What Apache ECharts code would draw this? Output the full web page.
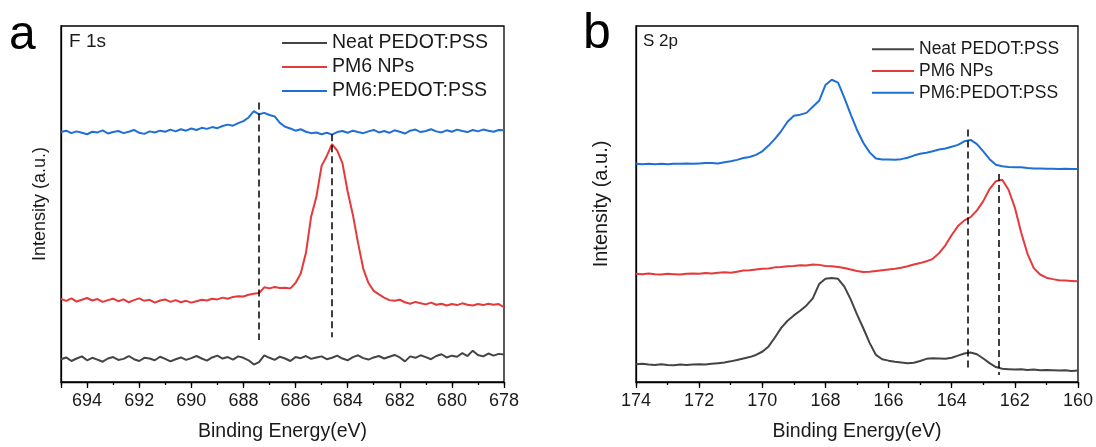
<!DOCTYPE html>
<html>
<head>
<meta charset="utf-8">
<script src="https://cdn.jsdelivr.net/npm/echarts@6/dist/echarts.min.js"></script>
<style>html,body{margin:0;padding:0;background:#fff}#c{width:1096px;height:447px}</style>
</head>
<body>
<div id="c"></div>
<script>
// ---------- Panel a : F 1s ----------
var energyA = [
695,694.8,694.6,694.4,694.2,694,693.8,693.6,693.4,693.2,
693,692.8,692.6,692.4,692.2,692,691.8,691.6,691.4,691.2,
691,690.8,690.6,690.4,690.2,690,689.8,689.6,689.4,689.2,
689,688.8,688.6,688.4,688.2,688,687.8,687.6,687.4,687.2,
687,686.8,686.6,686.4,686.2,686,685.8,685.6,685.4,685.2,
685,684.8,684.6,684.4,684.2,684,683.8,683.6,683.4,683.2,
683,682.8,682.6,682.4,682.2,682,681.8,681.6,681.4,681.2,
681,680.8,680.6,680.4,680.2,680,679.8,679.6,679.4,679.2,
679,678.8,678.6,678.4,678.2,678];
var neatA = [
6.4,6.9,5.9,6.6,7.2,6.1,6.8,6.3,5.7,6.6,
7.0,6.2,6.5,7.3,6.4,5.9,6.8,6.6,6.1,7.1,
6.5,5.8,6.4,6.9,6.2,6.7,7.3,6.6,6.0,6.9,
7.4,6.6,7.0,6.3,7.2,6.8,6.1,4.9,5.6,7.5,
6.8,6.2,7.1,6.6,5.9,7.0,6.7,7.3,6.5,6.9,
7.2,6.4,6.8,7.4,6.6,6.1,7.0,7.5,6.7,6.3,
6.9,7.3,6.6,7.1,7.6,6.9,5.8,7.2,6.8,7.5,
7.0,6.4,7.3,7.8,6.9,7.4,7.1,8.1,7.3,8.8,
7.6,7.2,8.0,7.4,7.9,7.7];
var pm6A = [
23.3,22.8,23.5,22.6,23.1,23.6,22.9,23.3,22.5,23.0,
23.4,22.7,23.2,22.4,23.0,23.5,22.8,23.1,22.3,22.9,
23.2,22.5,23.0,22.4,22.8,22.3,22.7,23.1,22.9,23.4,
23.2,23.7,23.4,23.9,24.1,24.0,24.5,24.8,25.0,26.6,
26.3,26.7,26.4,26.5,26.3,27.8,30.5,36.3,46.5,52.0,
60.7,63.5,66.8,65.0,61.5,53.5,47.0,39.0,31.8,27.8,
25.6,24.6,23.7,23.0,22.8,23.1,22.4,22.0,22.5,22.1,
21.8,22.3,21.7,22.0,21.5,21.9,21.6,22.1,21.7,21.5,
21.9,21.6,22.0,21.7,21.9,21.0];
var blendA = [
70.2,70.6,69.9,70.4,70.0,69.6,70.3,70.1,70.7,69.8,
70.2,70.5,69.9,70.3,70.8,70.0,69.7,70.4,70.1,70.6,
70.3,70.9,70.4,71.0,70.6,71.2,70.8,71.4,71.1,71.6,
71.3,71.9,72.3,72.0,72.7,73.3,74.3,76.1,75.2,75.6,
75.0,74.6,72.8,71.7,71.2,70.6,71.0,70.3,69.9,70.1,
69.6,70.0,69.5,70.2,70.5,70.0,70.6,70.2,69.9,70.4,
70.8,70.1,70.5,70.0,70.7,70.3,69.8,70.6,70.9,70.2,
70.5,71.0,70.4,70.1,70.7,70.3,70.9,70.5,70.2,70.8,
70.4,70.9,70.6,70.3,70.8,70.7];
var ticksA = [694,692,690,688,686,684,682,680,678];
// dashed guide lines: [energy, top, bottom]
var guidesA = [[687.4, 78.5, 11.8], [684.6, 69.6, 12.6]];

// ---------- Panel b : S 2p ----------
var energyB = [
174,173.8,173.6,173.4,173.2,173,172.8,172.6,172.4,172.2,
172,171.8,171.6,171.4,171.2,171,170.8,170.6,170.4,170.2,
170,169.8,169.6,169.4,169.2,169,168.8,168.6,168.4,168.2,
168,167.8,167.6,167.4,167.2,167,166.8,166.6,166.4,166.2,
166,165.8,165.6,165.4,165.2,165,164.8,164.6,164.4,164.2,
164,163.8,163.6,163.4,163.2,163,162.8,162.6,162.4,162.2,
162,161.8,161.6,161.4,161.2,161,160.8,160.6,160.4,160.2,
160];
var neatB = [
5.0,5.1,4.9,4.8,5.0,4.8,4.7,4.9,4.8,4.9,
5.0,4.9,5.1,5.3,5.5,5.8,6.2,6.6,7.0,7.6,
8.5,10.0,12.5,15.2,17.2,18.7,20.0,21.5,23.5,27.5,
29.0,29.2,29.0,26.8,23.2,19.0,15.1,11.0,7.6,6.4,
6.0,5.7,5.5,5.3,5.4,5.9,6.5,6.7,6.6,6.5,
6.8,7.4,8.0,8.3,7.8,6.6,5.3,4.2,3.7,3.6,
3.5,3.6,3.4,3.5,3.3,3.4,3.3,3.2,3.3,3.1,
3.2];
var pm6B = [
30.4,30.3,30.5,30.3,30.2,30.4,30.3,30.2,30.4,30.5,
30.4,30.6,30.5,30.7,30.8,30.7,31.0,31.3,31.4,31.6,
31.8,31.9,32.2,32.3,32.5,32.6,32.8,32.7,33.0,32.9,
32.6,32.5,32.3,32.0,31.6,31.2,30.9,31.0,31.2,31.4,
31.6,31.8,32.1,32.5,33.0,33.4,33.9,34.6,36.2,38.4,
41.3,43.8,45.4,46.3,48.2,50.8,54.2,56.4,56.8,54.0,
49.0,42.0,36.0,32.0,30.2,29.3,28.9,28.6,28.5,28.4,
28.3];
var blendB = [
61.3,61.2,61.3,61.2,61.3,61.2,61.3,61.3,61.4,61.3,
61.4,61.5,61.5,61.4,61.7,62.0,62.4,62.9,63.2,63.8,
64.8,66.4,68.3,70.5,73.1,74.8,75.1,75.6,77.3,79.0,
83.4,84.9,84.1,79.8,75.2,70.8,67.2,64.5,62.8,62.5,
62.5,62.4,62.6,63.0,63.6,64.1,64.4,64.8,65.3,65.6,
66.1,66.6,67.6,68.0,66.8,64.8,62.6,61.0,60.6,60.4,
60.3,60.3,60.1,60.0,60.0,59.9,59.9,59.8,59.9,59.8,
59.8];
var ticksB = [174,172,170,168,166,164,162,160];
var guidesB = [[163.5, 70.9, 3.1], [162.5, 58.4, 2.0]];

var seriesNames = ['Neat PEDOT:PSS', 'PM6 NPs', 'PM6:PEDOT:PSS'];
var colors = ['#444444', '#e5393b', '#1f6fd5'];

var FONT = "'Liberation Sans', Arial, sans-serif";

function pairs(xs, ys) { return xs.map(function (x, i) { return [x, ys[i]]; }); }
function guideLines(g) {
  return g.map(function (d) { return [{ coord: [d[0], d[1]] }, { coord: [d[0], d[2]] }]; });
}

function mainX(gi, min, max, ticks, nameGap) {
  return {
    type: 'value', gridIndex: gi, min: min, max: max, interval: 2, inverse: true, position: 'bottom',
    name: 'Binding Energy(eV)', nameLocation: 'middle', nameGap: nameGap,
    nameTextStyle: { fontFamily: FONT, fontSize: 19.5, color: '#1a1a1a' },
    axisLine: { show: true, onZero: false, lineStyle: { color: '#000', width: 1.3 } },
    axisTick: { show: true, inside: false, length: 6, lineStyle: { color: '#000', width: 1.3 } },
    axisLabel: {
      margin: 10, fontFamily: FONT, fontSize: 18, color: '#1a1a1a',
      formatter: function (v) { return ticks.indexOf(v) >= 0 ? String(v) : ''; }
    },
    splitLine: { show: false }
  };
}
function minorX(gi, min, max) {
  return {
    type: 'value', gridIndex: gi, min: min, max: max, interval: 1, inverse: true, position: 'bottom', offset: 0,
    axisLine: { show: false, onZero: false },
    axisTick: { show: true, inside: false, length: 3, lineStyle: { color: '#000', width: 1.3 } },
    axisLabel: { show: false }, splitLine: { show: false }
  };
}
function yAx(gi, nameGap, fs) {
  return {
    type: 'value', gridIndex: gi, min: 0, max: 100,
    name: 'Intensity (a.u.)', nameLocation: 'middle', nameGap: nameGap,
    nameTextStyle: { fontFamily: FONT, fontSize: fs, color: '#1a1a1a' },
    axisLine: { show: true, lineStyle: { color: '#000', width: 1.3 } },
    axisTick: { show: false }, axisLabel: { show: false }, splitLine: { show: false }
  };
}
function lineSeries(name, color, xi, yi, data, mark) {
  var s = {
    name: name, type: 'line', xAxisIndex: xi, yAxisIndex: yi, data: data,
    symbol: 'none', showSymbol: false, smooth: false, silent: true,
    lineStyle: { color: color, width: 2 }, itemStyle: { color: color }
  };
  if (mark) {
    s.markLine = {
      silent: true, symbol: 'none', label: { show: false },
      lineStyle: { color: '#000', width: 1.5, type: [7, 4] },
      data: mark
    };
  }
  return s;
}

var chart = echarts.init(document.getElementById('c'), null, { renderer: 'canvas' });
chart.setOption({
  animation: false,
  backgroundColor: '#ffffff',
  grid: [
    { left: 61, top: 26, width: 443, height: 358, show: true, borderColor: '#000', borderWidth: 1.3, backgroundColor: 'transparent' },
    { left: 636, top: 26, width: 443, height: 358, show: true, borderColor: '#000', borderWidth: 1.3, backgroundColor: 'transparent' }
  ],
  xAxis: [
    mainX(0, 678, 695, ticksA, 40),
    minorX(0, 678, 695),
    mainX(1, 160, 174, ticksB, 40),
    minorX(1, 160, 174)
  ],
  yAxis: [yAx(0, 12, 18), yAx(1, 25, 20)],
  legend: [
    {
      data: seriesNames, orient: 'vertical', left: 277, top: 26, itemGap: 0, padding: 5,
      icon: 'rect', itemWidth: 45, itemHeight: 2, selectedMode: false,
      textStyle: { fontFamily: FONT, fontSize: 19.5, color: '#1a1a1a', lineHeight: 24 }
    },
    {
      data: seriesNames, orient: 'vertical', left: 867, top: 33.5, itemGap: 0, padding: 5,
      icon: 'rect', itemWidth: 42, itemHeight: 2, selectedMode: false,
      textStyle: { fontFamily: FONT, fontSize: 17.5, color: '#1a1a1a', lineHeight: 21.7 }
    }
  ],
  graphic: [
    { type: 'text', style: { text: 'a', x: 9, y: 36, font: '48px ' + FONT, fill: '#000', textVerticalAlign: 'middle' } },
    { type: 'text', style: { text: 'b', x: 583, y: 34, font: '50px ' + FONT, fill: '#000', textVerticalAlign: 'middle' } },
    { type: 'text', style: { text: 'F 1s', x: 69, y: 41.7, font: '19px ' + FONT, fill: '#1a1a1a', textVerticalAlign: 'middle' } },
    { type: 'text', style: { text: 'S 2p', x: 643, y: 41, font: '17px ' + FONT, fill: '#1a1a1a', textVerticalAlign: 'middle' } }
  ],
  series: [
    lineSeries(seriesNames[0], colors[0], 0, 0, pairs(energyA, neatA), guideLines(guidesA)),
    lineSeries(seriesNames[1], colors[1], 0, 0, pairs(energyA, pm6A)),
    lineSeries(seriesNames[2], colors[2], 0, 0, pairs(energyA, blendA)),
    lineSeries(seriesNames[0], colors[0], 2, 1, pairs(energyB, neatB), guideLines(guidesB)),
    lineSeries(seriesNames[1], colors[1], 2, 1, pairs(energyB, pm6B)),
    lineSeries(seriesNames[2], colors[2], 2, 1, pairs(energyB, blendB))
  ]
});
</script>
</body>
</html>
